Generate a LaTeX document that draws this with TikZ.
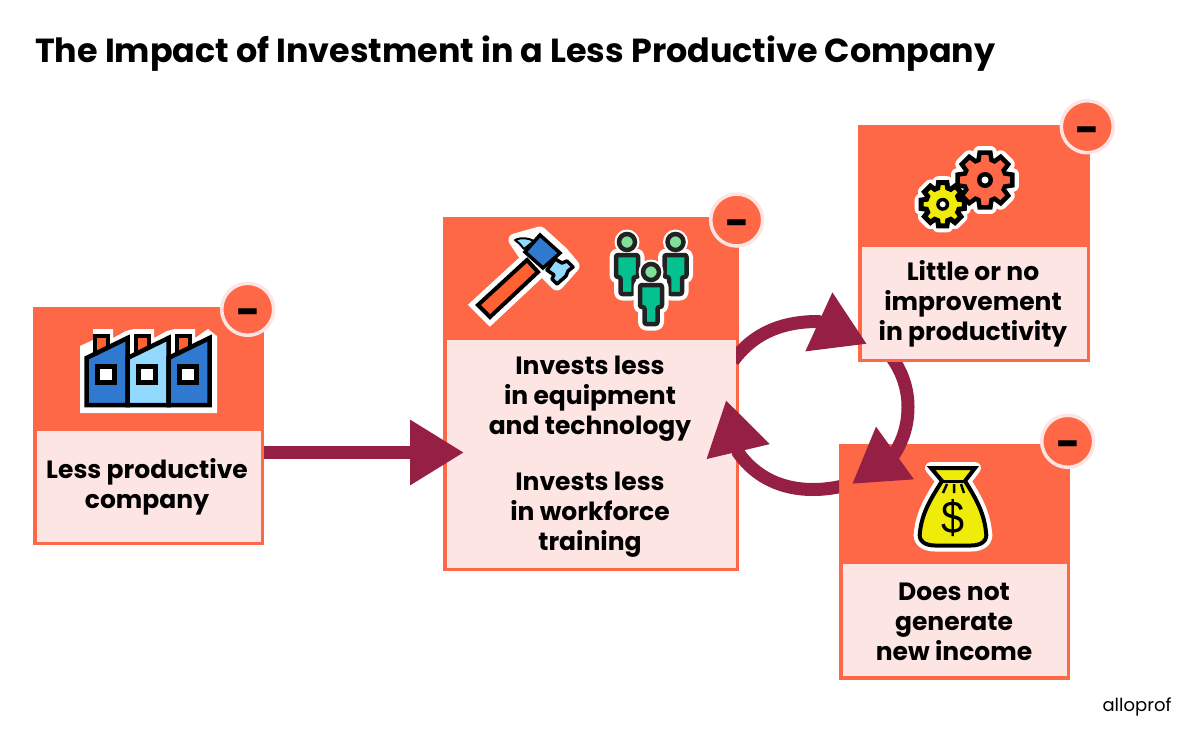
\documentclass[tikz,border=0pt]{standalone}
\usepackage{fontspec}
\setmainfont{Poppins}
\newfontfamily\dollarfont{Liberation Sans}
\usetikzlibrary{arrows.meta,calc}
\definecolor{coral}{HTML}{FF6846}
\definecolor{maroon}{HTML}{952044}
\definecolor{pale}{HTML}{FDE5E4}
\definecolor{iconblue}{HTML}{2F79D0}
\definecolor{iconsky}{HTML}{93D9FF}
\definecolor{iconorange}{HTML}{FF6130}
\definecolor{iconyellow}{HTML}{F0EC0A}
\definecolor{icongreen}{HTML}{05C08F}
\definecolor{iconmint}{HTML}{82DF9B}
\definecolor{inkdark}{HTML}{222222}
\tikzset{
  boxhead/.style={fill=coral,inner sep=0pt,outer sep=0pt},
  boxbody/.style={fill=pale,inner sep=0pt,outer sep=0pt},
  boxtext/.style={inner sep=0pt,outer sep=0pt,align=center,text=black,
    font=\fontsize{25}{30}\selectfont\bfseries},
  badge/.style={circle,fill=coral,draw=pale,line width=3.5pt,minimum size=52pt,inner sep=0pt,outer sep=0pt,
    font=\fontsize{42}{42}\selectfont\bfseries},
  flow/.style={draw=maroon,line width=13pt,-{Triangle[length=53pt,width=61pt]}},
  ink/.style={draw=black,line width=4.5pt,line join=miter},
}
\newcommand{\minussign}{\hspace*{1.5pt}\makebox[0pt]{\raisebox{-17.6pt}[0pt][0pt]{-}}}
\newcommand{\gearpath}[4]{% Rtip Rroot half-tip half-root
  ({-#3}:#1) \foreach \a in {0,45,...,315} { -- ({\a-#3}:#1) -- ({\a+#3}:#1) -- ({\a+#4}:#2) -- ({\a+45-#4}:#2) } -- cycle}
\newcommand{\personpath}{(-11,13) -- (11,13) -- (11,35) -- (6.5,35) -- (6.5,52) -- (-6.5,52) -- (-6.5,35) -- (-11,35) -- cycle}
\newcommand{\person}[2]{%
  \begin{scope}[shift={(#1,#2)}]
    \fill[white] (0,0) circle (12.5);
    \draw[draw=white,fill=white,line width=13pt,rounded corners=2pt,line join=round] \personpath;
    \draw[draw=inkdark,fill=icongreen,line width=4.5pt,rounded corners=2pt,line join=round] \personpath;
    \draw[draw=inkdark,fill=iconmint,line width=4.5pt] (0,0) circle (8);
  \end{scope}}
\newcommand{\chimney}[1]{%
  \begin{scope}[shift={(#1,0)}]
    \draw[ink,fill=iconorange] (7,336) rectangle (20,352);
  \end{scope}}
\newcommand{\shedpath}{(0,358) -- (41,338) -- (41,405) -- (0,405) -- cycle}
\newcommand{\shed}[2]{%
  \begin{scope}[shift={(#1,0)}]
    \draw[ink,fill=#2] \shedpath;
    \fill[black] (8,364) rectangle (30,385);
    \fill[white] (13,369) rectangle (25,380);
  \end{scope}}
\newcommand{\bagpath}{(931,468) -- (975,468) -- (965,481) .. controls (975,497) and (984,512) .. (986,532) .. controls (988,541) and (981,545.5) .. (971,545.5) -- (935,545.5) .. controls (925,545.5) and (918,541) .. (920,532) .. controls (922,512) and (932,497) .. (942,481) -- cycle}
\begin{document}
\begin{tikzpicture}[x=1pt,y=-1pt]
\useasboundingbox (0,0) rectangle (1200,737);
\fill[white] (0,0) rectangle (1200,737);

\node[anchor=base west,inner sep=0pt,font=\fontsize{33.35}{36}\selectfont\bfseries] (title) at (35,62) {The Impact of Investment in a Less Productive Company};

% boxes
\node[boxhead,minimum width=231pt,minimum height=238pt] (box1) at (148.5,426) {};
\node[boxbody,minimum width=224pt,minimum height=111pt] (body1) at (148.5,486) {};
\node[boxtext] (text1) at (147,487) {Less productive\\company};
\node[boxhead,minimum width=232pt,minimum height=237pt] (box3) at (974,243.5) {};
\node[boxbody,minimum width=225pt,minimum height=111.5pt] (body3) at (974,302.75) {};
\node[boxtext] (text3) at (973,303.75) {Little or no\\improvement\\in productivity};
\node[boxhead,minimum width=296pt,minimum height=354pt] (box2) at (591,394) {};
\node[boxhead,minimum width=231pt,minimum height=236pt] (box4) at (954.5,562) {};
\node[boxbody,minimum width=224pt,minimum height=112pt] (body4) at (954.5,620) {};
\node[boxtext] (text4) at (954,622) {Does not\\generate\\new income};

% connectors
\coordinate (t1) at (867,344);
\coordinate (t2) at (852,484);
\coordinate (t3) at (726,400);
\coordinate (t0) at (464,452.5);

\draw[flow]
  ([yshift=33pt,xshift=-6pt]box2.east) .. controls +(22,-30) and (785,321.5) .. (818,321.5) -- (t1);
\node[boxbody,minimum width=289pt,minimum height=228pt] (body2) at (591,453.5) {};
\node[boxtext] (text2) at (590,457)
  {Invests less\\in equipment\\and technology\\[26pt]Invests less\\in workforce\\training};
\begin{scope}
  \clip (700,362) rectangle (1200,737);
  \draw[flow]
    ([xshift=-84pt,yshift=7pt]box3.south) .. controls (903,372) and (908,390) .. (908,407)
    .. controls (908,425) and (903,440) .. (895,453) -- (t2);
\end{scope}
\begin{scope}
  \clip (650,300) rectangle (839,520);
  \draw[flow] ([yshift=77pt,xshift=8pt]box4.west) .. controls (808,495) and (765,490) .. (738.5,453) -- (t3);
\end{scope}
\draw[draw=maroon,line width=13pt,-{Triangle[length=54pt,width=62pt]}] ([yshift=-26.5pt]box1.east) -- (t0);

% badges
\node[badge] (badge1) at (247.7,309.3) {\minussign};
\node[badge] (badge2) at (736.7,220) {\minussign};
\node[badge] (badge3) at (1087.3,126.7) {\minussign};
\node[badge] (badge4) at (1067.7,441.3) {\minussign};

% factory icon
\fill[white] (80,346) -- (93,340) -- (93,329) -- (113,329) -- (113,338) -- (126,331) -- (134,329) -- (154,329) -- (154,338) -- (167,331) -- (175,329) -- (195,329) -- (195,338) -- (208,329) -- (217,336) -- (217,413) -- (80,413) -- cycle;
\chimney{88}\chimney{129}\chimney{170}
\shed{86.5}{iconblue}\shed{127.5}{iconsky}\shed{168.5}{iconblue}

% hammer icon
\draw[draw=white,fill=white,line width=14pt,line join=miter,miter limit=3] (478,305) -- (490,317) -- (538,272) -- (527,260) -- cycle;
\draw[draw=white,fill=white,line width=13pt,line join=round] (540,233) -- (562,253) -- (573,266) -- (557,284) -- (543,270) -- (523,252) -- (515,240) -- cycle;
\draw[ink,line width=4pt,fill=iconorange] (478,305) -- (490,317) -- (538,272) -- (527,260) -- cycle;
\draw[draw=black,line width=2pt,fill=iconsky,line join=round] (515,240) .. controls (522,237) and (528,238) .. (534,241) -- (524,249) .. controls (520,244) and (518,242) .. (515,240) -- cycle;
\draw[ink,line width=3.5pt,line join=round,fill=iconsky] (555,259) -- (562,263) -- (567,261) -- (573,267) -- (568,271) -- (566,276) -- (557,284) -- (552,279) -- (554,275) -- (547,270) -- cycle;
\draw[ink,line width=3.5pt,fill=iconblue] (540,235) -- (560,253) -- (543,268) -- (525,252) -- cycle;

% people icon
\person{627}{242}\person{675.5}{242}\person{651}{272}

% gears icon
\begin{scope}[shift={(985,180)}]
  \draw[draw=white,fill=white,line width=13pt,line join=round] \gearpath{28}{21}{11}{18};
\end{scope}
\begin{scope}[shift={(942.7,204.3)}]
  \draw[draw=white,fill=white,line width=13pt,line join=round] \gearpath{22}{17}{11}{17};
\end{scope}
\begin{scope}[shift={(985,180)}]
  \draw[ink,fill=coral] \gearpath{28}{21}{11}{18};
  \fill[black] (0,0) circle (8);
  \fill[white] (0,0) circle (3.5);
\end{scope}
\begin{scope}[shift={(942.7,204.3)}]
  \draw[ink,fill=iconyellow,line width=5pt] \gearpath{22}{17}{11}{17};
  \fill[black] (0,0) circle (6.5);
  \fill[white] (0,0) circle (3);
\end{scope}

% money bag icon
\draw[draw=white,fill=white,line width=12pt,line join=round] \bagpath;
\draw[draw=black,fill=iconyellow,line width=4pt,line join=miter] \bagpath;
\draw[draw=black,line width=3pt] (942,481) -- (965,481);
\draw[draw=black,line width=2.5pt] (947,484) -- (943,493) (954,484) -- (954,493) (961,484) -- (964,493);
\node[inner sep=0pt,font=\fontsize{46}{46}\selectfont\dollarfont,xscale=0.9] (dollar) at (953,518.5) {\$};

% logo
\node[inner sep=0pt,anchor=base,font=\fontsize{18}{18}\selectfont] (logo) at (1137,711) {alloprof};
\end{tikzpicture}
\end{document}
